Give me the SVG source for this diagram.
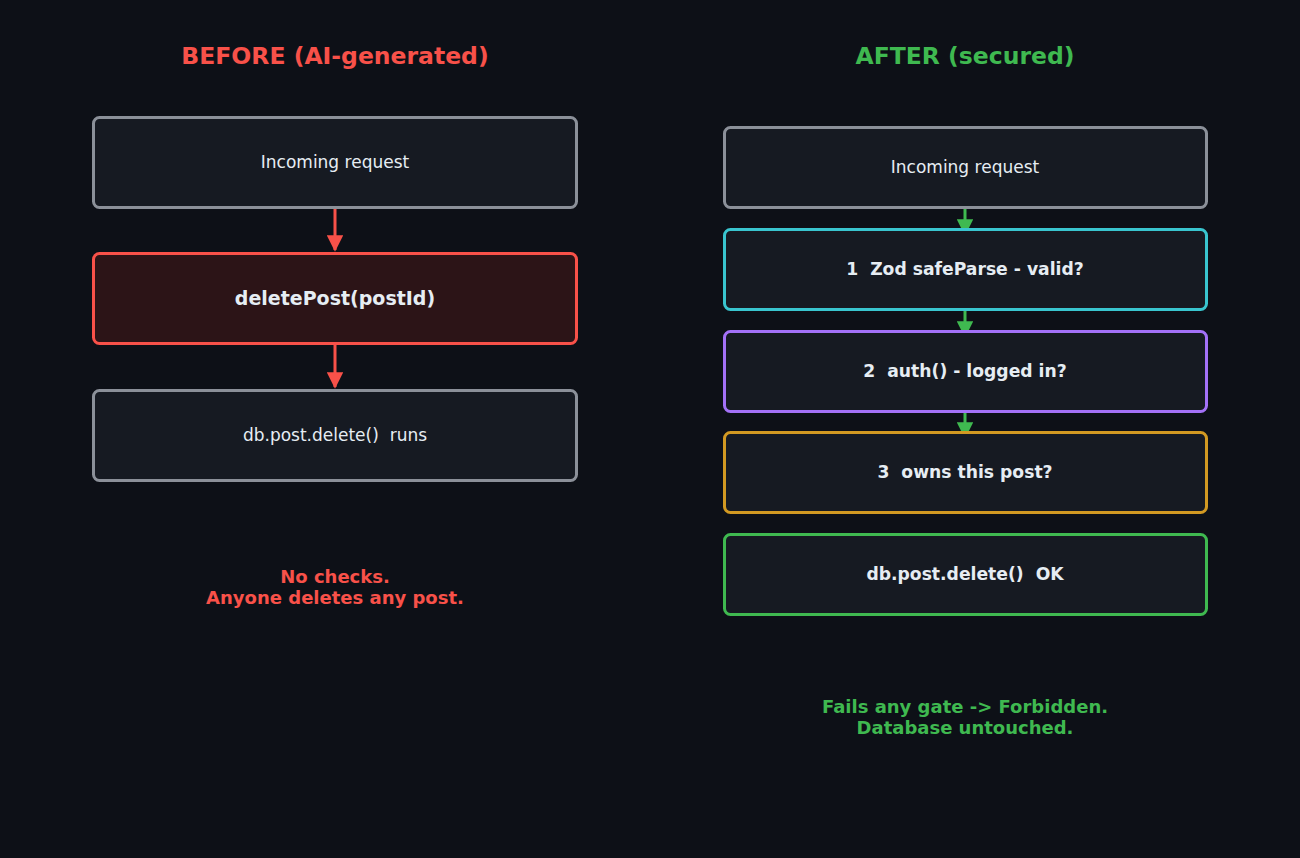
<svg xmlns="http://www.w3.org/2000/svg" width="1300" height="858" viewBox="0 0 1300 858">
<defs>
<marker id="ar" viewBox="0 0 10 10" refX="9" refY="5" markerWidth="5.5" markerHeight="5.5" orient="auto" markerUnits="strokeWidth"><path d="M0,0 L10,5 L0,10 z" fill="#f85149"/></marker>
<marker id="ag" viewBox="0 0 10 10" refX="9" refY="5" markerWidth="5.5" markerHeight="5.5" orient="auto" markerUnits="strokeWidth"><path d="M0,0 L10,5 L0,10 z" fill="#3fb950"/></marker>
<style>
text{font-family:"DejaVu Sans","Liberation Sans",sans-serif;text-anchor:middle}
.box{fill:#161a22;stroke-width:3}
.t{fill:#e6edf3;font-size:17px}
.b{font-weight:bold;font-size:17.2px}
.title{font-size:23.5px;font-weight:bold}
.note{font-size:18px;font-weight:bold}
</style>
</defs>
<rect width="1300" height="858" fill="#0d1017"/>
<text class="title" x="335" y="64" fill="#f85149">BEFORE (AI-generated)</text>
<text class="title" x="965" y="64" fill="#3fb950">AFTER (secured)</text>
<g id="connectors" stroke-width="3" fill="none">
<line x1="335" y1="208" x2="335" y2="250" stroke="#f85149" marker-end="url(#ar)"/>
<line x1="335" y1="345" x2="335" y2="387" stroke="#f85149" marker-end="url(#ar)"/>
<line x1="965" y1="208" x2="965" y2="234" stroke="#3fb950" marker-end="url(#ag)"/>
<line x1="965" y1="310" x2="965" y2="336" stroke="#3fb950" marker-end="url(#ag)"/>
<line x1="965" y1="412" x2="965" y2="437" stroke="#3fb950" marker-end="url(#ag)"/>
</g>
<g id="l1"><rect class="box" x="93.5" y="117.5" width="483" height="90" rx="6" stroke="#8b9099"/><text class="t" x="335" y="168">Incoming request</text></g>
<g id="l2"><rect class="box" x="93.5" y="253.5" width="483" height="90" rx="6" stroke="#f85149" style="fill:#2c1417"/><text class="t" x="335" y="305" style="font-size:19px;font-weight:bold">deletePost(postId)</text></g>
<g id="l3"><rect class="box" x="93.5" y="390.5" width="483" height="90" rx="6" stroke="#8b9099"/><text class="t" x="335" y="441" xml:space="preserve">db.post.delete()  runs</text></g>
<g id="r0"><rect class="box" x="724.5" y="127.5" width="482" height="80" rx="6" stroke="#8b9099"/><text class="t" x="965" y="173">Incoming request</text></g>
<g id="r1"><rect class="box" x="724.5" y="229.5" width="482" height="80" rx="6" stroke="#39c5cf"/><text class="t b" x="965" y="275" xml:space="preserve">1  Zod safeParse - valid?</text></g>
<g id="r2"><rect class="box" x="724.5" y="331.5" width="482" height="80" rx="6" stroke="#a371f7"/><text class="t b" x="965" y="377" xml:space="preserve">2  auth() - logged in?</text></g>
<g id="r3"><rect class="box" x="724.5" y="432.5" width="482" height="80" rx="6" stroke="#d29922"/><text class="t b" x="965" y="478" xml:space="preserve">3  owns this post?</text></g>
<g id="r4"><rect class="box" x="724.5" y="534.5" width="482" height="80" rx="6" stroke="#3fb950"/><text class="t b" x="965" y="580" xml:space="preserve">db.post.delete()  OK</text></g>
<text class="note" fill="#f85149" x="335" y="583">No checks.</text>
<text class="note" fill="#f85149" x="335" y="604">Anyone deletes any post.</text>
<text class="note" fill="#3fb950" x="965" y="713">Fails any gate -&gt; Forbidden.</text>
<text class="note" fill="#3fb950" x="965" y="734">Database untouched.</text>
</svg>
